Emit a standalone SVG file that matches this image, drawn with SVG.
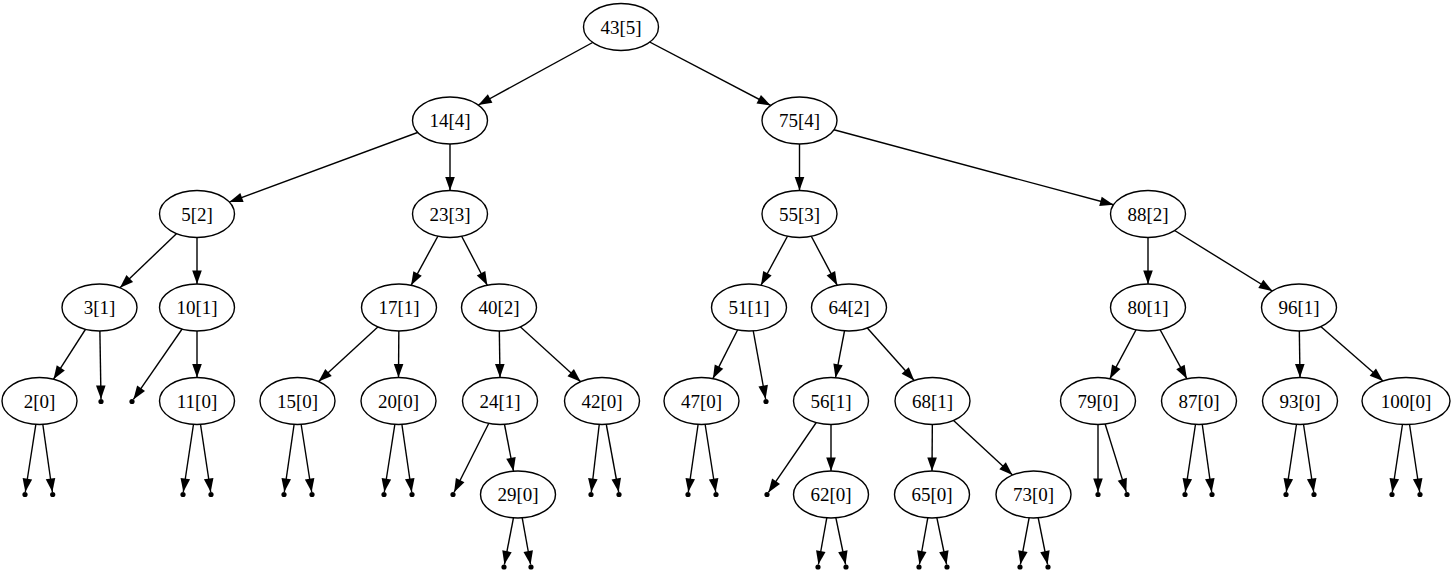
<svg xmlns="http://www.w3.org/2000/svg" width="1456" height="575" viewBox="0 0 1456 575">
<style>
.n ellipse{fill:#fff;stroke:#000;stroke-width:1.4}
.n text{font-family:"Liberation Serif","Times New Roman",serif;font-size:19px;text-anchor:middle;fill:#000}
#edges line{stroke:#000;stroke-width:1.4;marker-end:url(#ah)}
.d{fill:#000}
</style>
<defs>
<marker id="ah" markerUnits="userSpaceOnUse" markerWidth="14" markerHeight="10" refX="13.5" refY="4.8" orient="auto" overflow="visible"><path d="M0,0 L13.5,4.8 L0,9.6 z" fill="#000"/></marker>
</defs>
<rect width="1456" height="575" fill="#fff"/>
<g id="edges">
<line x1="621" y1="27" x2="478.3" y2="105"/>
<line x1="621" y1="27" x2="770.7" y2="105.4"/>
<line x1="450" y1="120.5" x2="229.3" y2="202.1"/>
<line x1="450" y1="120.5" x2="450" y2="190.5"/>
<line x1="799.5" y1="120.5" x2="799.5" y2="190.5"/>
<line x1="799.5" y1="120.5" x2="1113.5" y2="204.8"/>
<line x1="197" y1="214" x2="120" y2="287.8"/>
<line x1="197" y1="214" x2="197" y2="284"/>
<line x1="450" y1="214" x2="411.1" y2="285.3"/>
<line x1="450" y1="214" x2="487.3" y2="285.2"/>
<line x1="799.5" y1="214" x2="761" y2="285.2"/>
<line x1="799.5" y1="214" x2="837.2" y2="285.2"/>
<line x1="1148" y1="214" x2="1148" y2="284"/>
<line x1="1148" y1="214" x2="1272.3" y2="291"/>
<line x1="99.5" y1="307.5" x2="53.5" y2="379.2"/>
<line x1="99.5" y1="307.5" x2="101" y2="399"/>
<line x1="197" y1="307.5" x2="133.4" y2="399.4"/>
<line x1="197" y1="307.5" x2="197" y2="377.5"/>
<line x1="399" y1="307.5" x2="318.6" y2="381.6"/>
<line x1="399" y1="307.5" x2="398.5" y2="377.5"/>
<line x1="499" y1="307.5" x2="500" y2="377.5"/>
<line x1="499" y1="307.5" x2="580.7" y2="381.7"/>
<line x1="749" y1="307.5" x2="712.9" y2="378.6"/>
<line x1="749" y1="307.5" x2="765.6" y2="399"/>
<line x1="849" y1="307.5" x2="835.5" y2="377.7"/>
<line x1="849" y1="307.5" x2="914.2" y2="380.5"/>
<line x1="1148" y1="307.5" x2="1109.9" y2="378.7"/>
<line x1="1148" y1="307.5" x2="1186.9" y2="378.8"/>
<line x1="1299" y1="307.5" x2="1300" y2="377.5"/>
<line x1="1299" y1="307.5" x2="1383" y2="381"/>
<line x1="39.5" y1="401" x2="25.3" y2="492"/>
<line x1="39.5" y1="401" x2="52.4" y2="492"/>
<line x1="197" y1="401" x2="183.3" y2="492"/>
<line x1="197" y1="401" x2="210.7" y2="492"/>
<line x1="297.5" y1="401" x2="284.3" y2="492"/>
<line x1="297.5" y1="401" x2="311.7" y2="492"/>
<line x1="398.5" y1="401" x2="384.3" y2="492"/>
<line x1="398.5" y1="401" x2="411.7" y2="492"/>
<line x1="500" y1="401" x2="454.1" y2="492.2"/>
<line x1="500" y1="401" x2="513.5" y2="471.2"/>
<line x1="602" y1="401" x2="591.3" y2="492"/>
<line x1="602" y1="401" x2="618.7" y2="492"/>
<line x1="701.5" y1="401" x2="688.3" y2="492"/>
<line x1="701.5" y1="401" x2="715.7" y2="492"/>
<line x1="831" y1="401" x2="768.4" y2="492.4"/>
<line x1="831" y1="401" x2="831" y2="471"/>
<line x1="932.5" y1="401" x2="932" y2="471"/>
<line x1="932.5" y1="401" x2="1012.5" y2="475"/>
<line x1="1098" y1="401" x2="1098" y2="492"/>
<line x1="1098" y1="401" x2="1126.3" y2="492.1"/>
<line x1="1199" y1="401" x2="1185.3" y2="492"/>
<line x1="1199" y1="401" x2="1211.7" y2="492"/>
<line x1="1300" y1="401" x2="1286.3" y2="492"/>
<line x1="1300" y1="401" x2="1313.7" y2="492"/>
<line x1="1406" y1="401" x2="1392.3" y2="492"/>
<line x1="1406" y1="401" x2="1419.7" y2="492"/>
<line x1="518" y1="494.5" x2="504.4" y2="564.5"/>
<line x1="518" y1="494.5" x2="530.6" y2="564.5"/>
<line x1="831" y1="494.5" x2="818.4" y2="564.5"/>
<line x1="831" y1="494.5" x2="845.6" y2="564.5"/>
<line x1="932" y1="494.5" x2="919.4" y2="564.5"/>
<line x1="932" y1="494.5" x2="946.6" y2="564.5"/>
<line x1="1033.5" y1="494.5" x2="1020.4" y2="564.5"/>
<line x1="1033.5" y1="494.5" x2="1047.6" y2="564.5"/>
</g>
<g id="nulls" class="d">
<circle cx="101" cy="401.5" r="2.6"/><circle cx="132" cy="401.5" r="2.6"/>
<circle cx="766" cy="401.5" r="2.6"/>
<circle cx="25" cy="494.5" r="2.6"/><circle cx="52.7" cy="494.5" r="2.6"/>
<circle cx="183" cy="494.5" r="2.6"/><circle cx="211" cy="494.5" r="2.6"/>
<circle cx="284" cy="494.5" r="2.6"/><circle cx="312" cy="494.5" r="2.6"/>
<circle cx="384" cy="494.5" r="2.6"/><circle cx="412" cy="494.5" r="2.6"/>
<circle cx="453" cy="494.5" r="2.6"/>
<circle cx="591" cy="494.5" r="2.6"/><circle cx="619" cy="494.5" r="2.6"/>
<circle cx="688" cy="494.5" r="2.6"/><circle cx="716" cy="494.5" r="2.6"/>
<circle cx="767" cy="494.5" r="2.6"/>
<circle cx="1098" cy="494.5" r="2.6"/><circle cx="1127" cy="494.5" r="2.6"/>
<circle cx="1185" cy="494.5" r="2.6"/><circle cx="1212" cy="494.5" r="2.6"/>
<circle cx="1286" cy="494.5" r="2.6"/><circle cx="1314" cy="494.5" r="2.6"/>
<circle cx="1392" cy="494.5" r="2.6"/><circle cx="1420" cy="494.5" r="2.6"/>
<circle cx="504" cy="567" r="2.6"/><circle cx="531" cy="567" r="2.6"/>
<circle cx="818" cy="567" r="2.6"/><circle cx="846" cy="567" r="2.6"/>
<circle cx="919" cy="567" r="2.6"/><circle cx="947" cy="567" r="2.6"/>
<circle cx="1020" cy="567" r="2.6"/><circle cx="1048" cy="567" r="2.6"/>
</g>
<g id="n43" class="n"><ellipse cx="621" cy="27" rx="37.5" ry="23.5"/><text x="621" y="33.5">43[5]</text></g>
<g id="n14" class="n"><ellipse cx="450" cy="120.5" rx="37.5" ry="23.5"/><text x="450" y="127">14[4]</text></g>
<g id="n75" class="n"><ellipse cx="799.5" cy="120.5" rx="37.5" ry="23.5"/><text x="799.5" y="127">75[4]</text></g>
<g id="n5" class="n"><ellipse cx="197" cy="214" rx="37.5" ry="23.5"/><text x="197" y="220.5">5[2]</text></g>
<g id="n23" class="n"><ellipse cx="450" cy="214" rx="37.5" ry="23.5"/><text x="450" y="220.5">23[3]</text></g>
<g id="n55" class="n"><ellipse cx="799.5" cy="214" rx="37.5" ry="23.5"/><text x="799.5" y="220.5">55[3]</text></g>
<g id="n88" class="n"><ellipse cx="1148" cy="214" rx="37.5" ry="23.5"/><text x="1148" y="220.5">88[2]</text></g>
<g id="n3" class="n"><ellipse cx="99.5" cy="307.5" rx="37.5" ry="23.5"/><text x="99.5" y="314">3[1]</text></g>
<g id="n10" class="n"><ellipse cx="197" cy="307.5" rx="37.5" ry="23.5"/><text x="197" y="314">10[1]</text></g>
<g id="n17" class="n"><ellipse cx="399" cy="307.5" rx="37.5" ry="23.5"/><text x="399" y="314">17[1]</text></g>
<g id="n40" class="n"><ellipse cx="499" cy="307.5" rx="37.5" ry="23.5"/><text x="499" y="314">40[2]</text></g>
<g id="n51" class="n"><ellipse cx="749" cy="307.5" rx="37.5" ry="23.5"/><text x="749" y="314">51[1]</text></g>
<g id="n64" class="n"><ellipse cx="849" cy="307.5" rx="37.5" ry="23.5"/><text x="849" y="314">64[2]</text></g>
<g id="n80" class="n"><ellipse cx="1148" cy="307.5" rx="37.5" ry="23.5"/><text x="1148" y="314">80[1]</text></g>
<g id="n96" class="n"><ellipse cx="1299" cy="307.5" rx="37.5" ry="23.5"/><text x="1299" y="314">96[1]</text></g>
<g id="n2" class="n"><ellipse cx="39.5" cy="401" rx="37.5" ry="23.5"/><text x="39.5" y="407.5">2[0]</text></g>
<g id="n11" class="n"><ellipse cx="197" cy="401" rx="37.5" ry="23.5"/><text x="197" y="407.5">11[0]</text></g>
<g id="n15" class="n"><ellipse cx="297.5" cy="401" rx="37.5" ry="23.5"/><text x="297.5" y="407.5">15[0]</text></g>
<g id="n20" class="n"><ellipse cx="398.5" cy="401" rx="37.5" ry="23.5"/><text x="398.5" y="407.5">20[0]</text></g>
<g id="n24" class="n"><ellipse cx="500" cy="401" rx="37.5" ry="23.5"/><text x="500" y="407.5">24[1]</text></g>
<g id="n42" class="n"><ellipse cx="602" cy="401" rx="37.5" ry="23.5"/><text x="602" y="407.5">42[0]</text></g>
<g id="n47" class="n"><ellipse cx="701.5" cy="401" rx="37.5" ry="23.5"/><text x="701.5" y="407.5">47[0]</text></g>
<g id="n56" class="n"><ellipse cx="831" cy="401" rx="37.5" ry="23.5"/><text x="831" y="407.5">56[1]</text></g>
<g id="n68" class="n"><ellipse cx="932.5" cy="401" rx="37.5" ry="23.5"/><text x="932.5" y="407.5">68[1]</text></g>
<g id="n79" class="n"><ellipse cx="1098" cy="401" rx="37.5" ry="23.5"/><text x="1098" y="407.5">79[0]</text></g>
<g id="n87" class="n"><ellipse cx="1199" cy="401" rx="37.5" ry="23.5"/><text x="1199" y="407.5">87[0]</text></g>
<g id="n93" class="n"><ellipse cx="1300" cy="401" rx="37.5" ry="23.5"/><text x="1300" y="407.5">93[0]</text></g>
<g id="n100" class="n"><ellipse cx="1406" cy="401" rx="44" ry="23.5"/><text x="1406" y="407.5">100[0]</text></g>
<g id="n29" class="n"><ellipse cx="518" cy="494.5" rx="37.5" ry="23.5"/><text x="518" y="501">29[0]</text></g>
<g id="n62" class="n"><ellipse cx="831" cy="494.5" rx="37.5" ry="23.5"/><text x="831" y="501">62[0]</text></g>
<g id="n65" class="n"><ellipse cx="932" cy="494.5" rx="37.5" ry="23.5"/><text x="932" y="501">65[0]</text></g>
<g id="n73" class="n"><ellipse cx="1033.5" cy="494.5" rx="37.5" ry="23.5"/><text x="1033.5" y="501">73[0]</text></g>
</svg>
